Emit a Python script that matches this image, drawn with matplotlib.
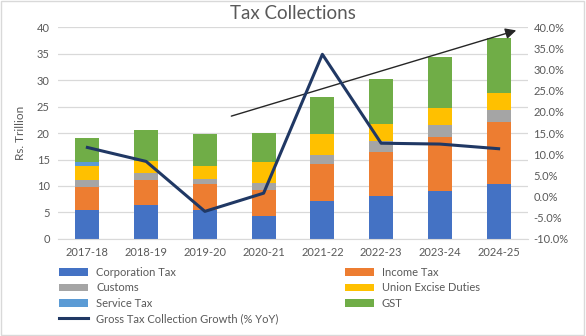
import matplotlib.pyplot as plt
import numpy as np
from matplotlib.patches import Rectangle
from matplotlib.ticker import FuncFormatter

years = ['2017-18', '2018-19', '2019-20', '2020-21', '2021-22', '2022-23', '2023-24', '2024-25']
corporation_tax = [5.5, 6.4, 5.5, 4.4, 7.1, 8.2, 9.1, 10.3]
income_tax = [4.3, 4.7, 4.9, 4.9, 7.0, 8.3, 10.2, 11.7]
customs = [1.3, 1.3, 0.9, 1.3, 1.8, 2.0, 2.3, 2.3]
union_excise = [2.7, 2.3, 2.5, 4.0, 4.0, 3.3, 3.1, 3.2]
service_tax = [0.8, 0.05, 0.05, 0.0, 0.0, 0.0, 0.0, 0.0]
gst = [4.5, 5.8, 6.0, 5.5, 6.9, 8.4, 9.6, 10.5]
growth_pct = [11.6, 8.3, -3.5, 0.8, 33.6, 12.6, 12.4, 11.3]

series = [
    ('Corporation Tax', corporation_tax, '#4472C4'),
    ('Income Tax', income_tax, '#ED7D31'),
    ('Customs', customs, '#A5A5A5'),
    ('Union Excise Duties', union_excise, '#FFC000'),
    ('Service Tax', service_tax, '#5B9BD5'),
    ('GST', gst, '#70AD47'),
]

plt.rcParams['font.family'] = ['Lato', 'DejaVu Sans']
text_col = '#595959'
grid_col = '#D9D9D9'

fig = plt.figure(figsize=(5.86, 3.36), dpi=100)
ax = fig.add_axes([0.099, 0.289, 0.802, 0.630])
x = np.arange(len(years))

bottom = np.zeros(len(years))
handles = {}
for name, vals, col in series:
    b = ax.bar(x, vals, 0.41, bottom=bottom, color=col, label=name, zorder=2)
    handles[name] = b
    bottom += np.array(vals)

ax.set_xlim(-0.5, 7.5)
ax.set_ylim(0, 40)
ax.set_yticks(range(0, 41, 5))
ax.set_xticks(x)
ax.set_xticklabels(years)
ax.grid(axis='y', color=grid_col, linewidth=0.9, zorder=0)
ax.set_axisbelow(True)
for s in ['top', 'left', 'right']:
    ax.spines[s].set_visible(False)
ax.spines['bottom'].set_color(grid_col)
ax.tick_params(length=0, labelsize=8, colors=text_col, pad=6)
ax.set_ylabel('Rs. Trillion', fontsize=8.5, color=text_col, labelpad=8)

ax2 = ax.twinx()
line, = ax2.plot(x, growth_pct, color='#203864', linewidth=2.2, zorder=3,
                 label='Gross Tax Collection Growth (% YoY)')
ax2.set_ylim(-10, 40)
ax2.set_yticks(range(-10, 41, 5))
ax2.yaxis.set_major_formatter(FuncFormatter(lambda v, p: f'{v:.1f}%'))
for s in ['top', 'left', 'right', 'bottom']:
    ax2.spines[s].set_visible(False)
ax2.tick_params(length=0, labelsize=8, colors=text_col, pad=4)

# trend arrow
ax.annotate('', xy=(7.3, 39.4), xytext=(2.45, 23.2),
            arrowprops=dict(arrowstyle='-|>', color='#262626', lw=1.0,
                            mutation_scale=16, shrinkA=0, shrinkB=0),
            zorder=4)

fig.suptitle('Tax Collections', fontsize=13.5, color=text_col, y=0.985)

order = ['Corporation Tax', 'Customs', 'Service Tax', None,
         'Income Tax', 'Union Excise Duties', 'GST']
h = []
lab = []
for n in order:
    if n is None:
        h.append(line)
        lab.append(line.get_label())
    else:
        h.append(handles[n])
        lab.append(n)
fig.legend(h, lab, ncol=2, loc='upper left', bbox_to_anchor=(0.092, 0.222),
           frameon=False, fontsize=8, labelcolor=text_col,
           handlelength=2.6, handleheight=0.7, handletextpad=0.7,
           columnspacing=6.0, labelspacing=0.4, borderpad=0)

fig.patches.append(Rectangle((0.002, 0.003), 0.995, 0.994, transform=fig.transFigure,
                             fill=False, edgecolor=grid_col, linewidth=1))

fig.savefig('out.png', dpi=100)
